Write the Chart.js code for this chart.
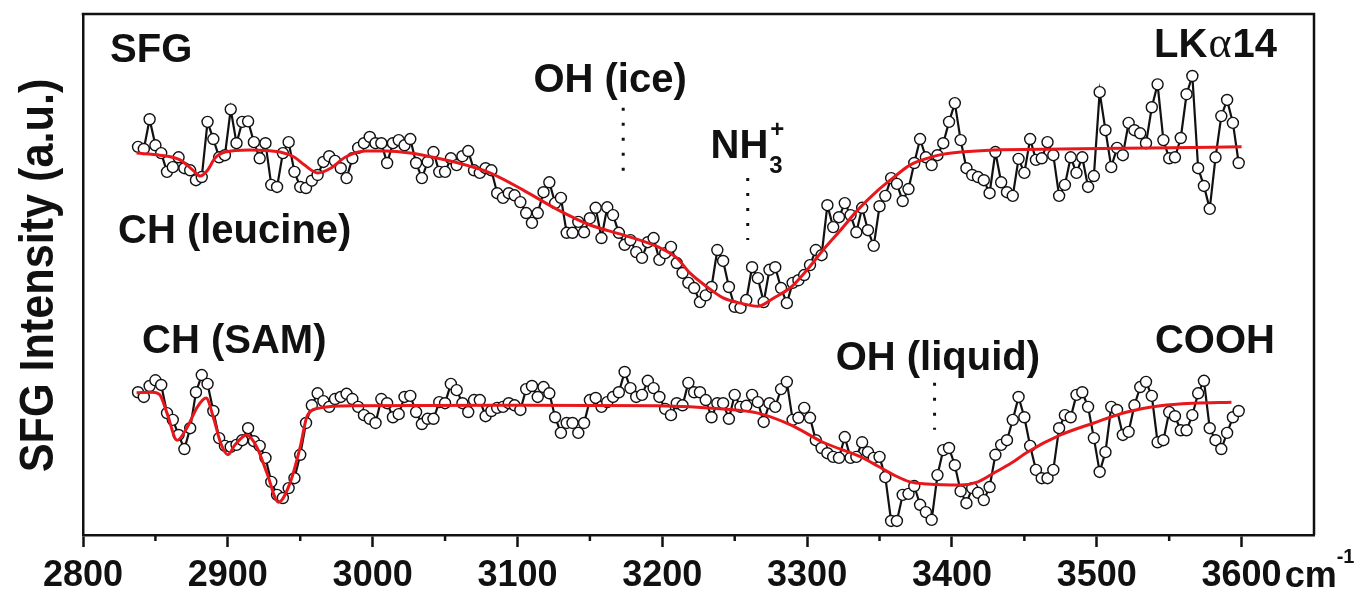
<!DOCTYPE html>
<html lang="en">
<head>
    <meta charset="UTF-8">
    <title>SFG spectra LKα14</title>
    <script src="https://cdn.jsdelivr.net/npm/chart.js"></script>
    <style>
        body {
            margin: 0;
            background: #fff;
        }
        canvas {
            display: block;
        }
    </style>
</head>
<body>
    <canvas id="sfgChart" width="1356" height="589"></canvas>

    <script>
        // scan grid (cm-1), shared by both spectra
        const wavenumbers = [
            2838,2842,2846,2850,2854,2858,2862,2866,2870,2874,2878,2882,2886,2890,2894,2898,2902,2906,2910,2914,
            2918,2922,2926,2930,2934,2938,2942,2946,2950,2954,2958,2962,2966,2970,2974,2978,2982,2986,2990,2994,
            2998,3002,3006,3010,3014,3018,3022,3026,3030,3034,3038,3042,3046,3050,3054,3058,3062,3066,3070,3074,
            3078,3082,3086,3090,3094,3098,3102,3106,3110,3114,3118,3122,3126,3130,3134,3138,3142,3146,3150,3154,
            3158,3162,3166,3170,3174,3178,3182,3186,3190,3194,3198,3202,3206,3210,3214,3218,3222,3226,3230,3234,
            3238,3242,3246,3250,3254,3258,3262,3266,3270,3274,3278,3282,3286,3290,3294,3298,3302,3306,3310,3314,
            3318,3322,3326,3330,3334,3338,3342,3346,3350,3354,3358,3362,3366,3370,3374,3378,3382,3386,3390,3394,
            3398,3402,3406,3410,3414,3418,3422,3426,3430,3434,3438,3442,3446,3450,3454,3458,3462,3466,3470,3474,
            3478,3482,3486,3490,3494,3498,3502,3506,3510,3514,3518,3522,3526,3530,3534,3538,3542,3546,3550,3554,
            3558,3562,3566,3570,3574,3578,3582,3586,3590,3594,3598
        ];

        // upper spectrum (LKα14), a.u.
        const lkIntensity = [
            74.5,74.1,79.8,74.8,73.3,69.7,70.6,72.5,70.4,70.0,68.1,68.7,79.3,76.0,72.5,72.9,81.7,75.2,79.3,79.4,
            75.4,72.3,75.2,67.2,66.8,73.3,75.4,69.7,66.8,66.6,68.0,69.1,71.6,72.7,71.8,70.4,68.5,72.3,74.3,75.2,
            76.4,75.2,75.2,71.4,75.2,75.8,74.8,76.0,71.4,68.5,71.6,73.5,69.7,69.7,72.3,71.0,72.7,73.7,70.0,69.5,
            70.4,70.0,65.6,
            64.7,65.6,65.2,63.9,61.8,59.9,61.8,65.8,67.7,63.7,64.7,58.0,58.0,60.1,58.1,60.8,62.8,57.0,62.9,61.4,
            58.0,55.7,56.6,54.3,53.2,56.2,57.0,52.8,54.1,55.3,52.2,50.3,48.4,47.4,44.7,46.0,47.6,54.7,52.6,47.6,
            43.8,43.6,45.1,51.4,49.3,44.7,50.9,51.4,47.4,44.5,48.4,48.9,49.9,51.8,54.7,53.7,63.3,59.1,61.0,63.7,
            61.4,58.1,62.8,
            58.5,55.5,63.1,65.1,68.5,67.4,64.1,66.4,71.4,76.0,72.5,71.0,72.9,75.2,79.3,82.9,75.8,70.4,69.1,68.7,
            68.1,65.6,73.5,67.7,65.8,65.1,72.2,69.5,76.0,72.0,72.3,75.4,72.9,65.1,67.2,72.5,69.5,72.5,66.8,68.9,
            85.0,77.7,70.6,74.3,72.9,79.1,77.7,77.1,75.2,82.1,86.5,75.8,72.3,72.5,76.2,84.6,88.1,70.4,67.0,62.6,
            72.5,80.4,83.5,79.1,71.4
        ];

        // lower spectrum (COOH SAM), a.u.
        const coohIntensity = [
            27.4,26.5,28.6,29.7,28.8,23.4,22.1,19.2,16.5,20.5,27.4,30.7,29.0,23.8,18.6,17.1,16.9,17.3,18.2,20.5,
            18.0,17.1,14.8,10.2,7.7,7.1,9.0,10.9,15.4,21.5,24.9,27.2,25.7,24.6,26.1,26.5,27.1,26.1,24.6,23.0,
            22.3,21.5,26.1,25.3,22.6,23.2,26.5,26.7,23.6,21.3,22.3,22.3,25.5,25.3,29.0,27.8,25.3,23.6,25.9,25.9,
            22.8,23.8,24.4,
            24.6,25.3,24.9,24.0,28.0,28.6,26.5,28.4,27.2,22.6,19.6,21.5,21.5,19.6,21.5,25.9,26.3,24.6,25.5,26.5,
            27.4,31.3,28.2,26.5,26.9,29.6,28.2,26.5,24.2,23.0,25.3,24.9,29.2,27.4,27.4,25.9,22.6,25.3,25.3,22.3,
            26.9,24.6,24.8,26.9,25.5,21.7,25.3,24.6,28.0,29.4,22.1,22.5,24.4,22.5,18.2,16.7,15.7,15.0,14.8,18.8,
            14.8,15.0,17.8,15.9,14.8,
            15.0,11.1,2.7,2.7,7.7,7.9,9.4,5.8,4.4,2.9,11.5,16.3,16.7,13.4,8.4,6.1,9.0,8.1,6.7,9.2,
            15.4,17.3,18.2,22.1,26.5,22.6,17.1,12.5,10.9,10.9,12.5,20.5,23.0,22.6,26.9,27.4,24.6,18.6,12.1,15.9,
            24.6,24.0,19.2,19.8,24.9,28.4,29.4,26.7,17.8,18.2,23.6,22.8,20.1,20.1,23.0,27.2,29.6,20.5,18.2,16.5,
            19.6,22.6,23.8
        ];

        // fitted curves (red)
        const lkFitX = [2837,2853,2867,2876,2881,2886,2891,2898,2915,2936,2946,2953,2962,2971,2981,2995,3009,3026,3045,3067,
                        3081,3104,3128,3150,3173,3197,3210,3219,3231,3242,3254,3266,3277,3289,3300,3311,3323,3335,3349,3360,
                        3371,3383,3394,3406,3429,3475,3537,3600];
        const lkFitY = [73.3,72.9,72.0,70.0,68.9,70.0,72.3,73.5,73.9,73.5,72.5,71.0,69.5,70.4,72.5,73.7,73.7,73.3,72.3,70.8,
                        69.5,66.2,62.4,59.5,57.6,55.3,53.2,50.3,47.6,45.5,44.5,43.9,45.5,47.6,50.9,54.7,58.5,62.4,66.2,68.7,
                        71.0,72.3,73.1,73.5,73.9,74.1,74.3,74.5];
        const coohFitX = [2837,2848,2853,2858,2865,2872,2879,2885,2890,2895,2900,2905,2913,2920,2927,2935,2943,2950,2955,2964,
                          2987,3088,3197,3242,3266,3289,3311,3337,3349,3360,3371,3383,3406,3418,3429,3441,3452,3475,3498,3521,
                          3544,3567,3593];
        const coohFitY = [27.3,27.4,26.9,23.4,18.2,20.7,24.6,26.3,22.6,17.7,15.4,17.3,19.2,16.9,11.9,6.3,10.0,16.9,23.0,24.4,
                          24.8,24.9,24.8,24.2,23.4,21.1,17.8,15.0,13.2,11.5,10.2,9.8,9.6,10.2,11.9,13.8,15.9,19.2,21.5,23.6,
                          24.8,25.3,25.5];

        const majorTicks = [2800, 2900, 3000, 3100, 3200, 3300, 3400, 3500, 3600];

        // band assignments: dotted marker at a wavenumber, from/to in a.u.
        const markers = [
            { at: 3173, from: 82.0, to: 67.6 },
            { at: 3259, from: 68.5, to: 56.6 },
            { at: 3388, from: 29.2, to: 20.2 }
        ];

        const INK = '#111';
        const RED = '#e8171c';
        const FONT = '"Liberation Sans", Arial, sans-serif';
        Chart.defaults.font.family = FONT;

        const toPoints = (xs, ys) => ys.map((v, i) => ({ x: xs[i], y: v }));

        function drawRuns(ctx, runs, px, py, align) {
            let total = 0;
            runs.forEach(r => { ctx.font = r.font; r.w = ctx.measureText(r.t).width + (r.gap || 0); total += r.w; });
            let cx = align === 'right' ? px - total : px;
            runs.forEach(r => {
                ctx.font = r.font;
                ctx.fillText(r.t, cx + (r.gap || 0) / 2, py + (r.dy || 0));
                cx += r.w;
            });
        }

        const annotations = {
            id: 'annotations',
            afterDraw(chart) {
                const { ctx, chartArea: a, scales: { x, y } } = chart;
                ctx.save();

                // top and right frame
                ctx.strokeStyle = INK;
                ctx.lineWidth = 2.5;
                ctx.beginPath();
                ctx.moveTo(a.left - 1.25, a.top);
                ctx.lineTo(a.right, a.top);
                ctx.lineTo(a.right, a.bottom);
                ctx.stroke();

                // minor ticks every 50 cm-1
                ctx.lineWidth = 2.5;
                x.ticks.forEach(t => {
                    if (t.value % 100 === 50 && t.value < 3600) {
                        const px = x.getPixelForValue(t.value);
                        ctx.beginPath();
                        ctx.moveTo(px, a.bottom);
                        ctx.lineTo(px, a.bottom + 6);
                        ctx.stroke();
                    }
                });

                // dotted band markers
                ctx.setLineDash([3, 12]);
                ctx.lineWidth = 3;
                markers.forEach(m => {
                    const px = x.getPixelForValue(m.at);
                    ctx.beginPath();
                    ctx.moveTo(px, y.getPixelForValue(m.from));
                    ctx.lineTo(px, y.getPixelForValue(m.to));
                    ctx.stroke();
                });
                ctx.setLineDash([]);

                // labels
                ctx.fillStyle = INK;
                ctx.textBaseline = 'alphabetic';
                ctx.textAlign = 'left';
                const bold = s => 'bold ' + s + 'px ' + FONT;
                const put = (runs, w, v, align) => drawRuns(ctx, runs, x.getPixelForValue(w), y.getPixelForValue(v), align);

                put([{ t: 'SFG', font: bold(40) }], 2818.7, 90.8);
                put([{ t: 'CH (leucine)', font: bold(40) }], 2824.2, 56.0);
                put([{ t: 'CH (SAM)', font: bold(40) }], 2840.8, 34.9);
                put([{ t: 'OH (ice)', font: bold(40) }], 3111, 85.0);
                put([{ t: 'OH (liquid)', font: bold(40) }], 3319.7, 31.7);
                put([{ t: 'COOH', font: bold(40) }], 3623, 34.9, 'right');
                put([
                    { t: 'LK', font: bold(40) },
                    { t: 'α', font: '44px "Liberation Serif", "DejaVu Serif", serif', gap: 2 },
                    { t: '14', font: bold(40) }
                ], 3624.4, 91.7, 'right');

                // NH3+
                const nx = x.getPixelForValue(3233.3);
                const ny = y.getPixelForValue(72.4);
                ctx.font = bold(40);
                ctx.fillText('NH', nx, ny);
                const nw = ctx.measureText('NH').width;
                ctx.font = bold(24);
                ctx.fillText('3', nx + nw + 1, ny + 15);
                ctx.fillText('+', nx + nw + 2, ny - 21);

                // unit after the last tick label
                const lastPx = x.getPixelForValue(3600);
                ctx.font = bold(36);
                const halfW = ctx.measureText('3600').width / 2;
                const base = a.bottom + 52;
                ctx.fillText('cm', lastPx + halfW + 3, base);
                const cmW = ctx.measureText('cm').width;
                ctx.font = bold(20);
                ctx.fillText('-1', lastPx + halfW + 3 + cmW, base - 24);

                // y title
                ctx.save();
                ctx.translate(53, (a.top + a.bottom) / 2 + 1);
                ctx.rotate(-Math.PI / 2);
                ctx.scale(0.9, 1);
                ctx.textAlign = 'center';
                ctx.font = bold(48);
                ctx.fillText('SFG Intensity (a.u.)', 0, 0);
                ctx.restore();

                ctx.restore();
            }
        };

        const ctx = document.getElementById('sfgChart').getContext('2d');
        new Chart(ctx, {
            type: 'line',
            data: {
                datasets: [
                    {
                        label: 'LKα14 fit',
                        data: toPoints(lkFitX, lkFitY),
                        borderColor: RED,
                        borderWidth: 3,
                        pointRadius: 0,
                        cubicInterpolationMode: 'monotone',
                        order: 0
                    },
                    {
                        label: 'COOH fit',
                        data: toPoints(coohFitX, coohFitY),
                        borderColor: RED,
                        borderWidth: 3,
                        pointRadius: 0,
                        cubicInterpolationMode: 'monotone',
                        order: 0
                    },
                    {
                        label: 'LKα14',
                        data: toPoints(wavenumbers, lkIntensity),
                        borderColor: INK,
                        borderWidth: 2.2,
                        pointRadius: 5.5,
                        pointBorderWidth: 1.4,
                        pointBorderColor: INK,
                        pointBackgroundColor: '#fff',
                        tension: 0,
                        order: 1
                    },
                    {
                        label: 'COOH',
                        data: toPoints(wavenumbers, coohIntensity),
                        borderColor: INK,
                        borderWidth: 2.2,
                        pointRadius: 5.5,
                        pointBorderWidth: 1.4,
                        pointBorderColor: INK,
                        pointBackgroundColor: '#fff',
                        tension: 0,
                        order: 1
                    }
                ]
            },
            options: {
                responsive: false,
                animation: false,
                devicePixelRatio: 1,
                layout: { padding: { top: 14, right: 42, left: 0, bottom: 0 } },
                plugins: {
                    legend: { display: false },
                    tooltip: { enabled: false }
                },
                scales: {
                    x: {
                        type: 'linear',
                        min: 2800,
                        max: 3650,
                        afterFit: s => { s.height = 54; },
                        ticks: {
                            stepSize: 50,
                            autoSkip: false,
                            maxRotation: 0,
                            minRotation: 0,
                            padding: 7,
                            color: INK,
                            font: { size: 36, weight: 'bold' },
                            callback: v => majorTicks.includes(v) ? String(v) : ''
                        },
                        grid: {
                            drawOnChartArea: false,
                            tickLength: 12,
                            tickWidth: 2.5,
                            tickColor: c => (c.tick && majorTicks.includes(c.tick.value)) ? INK : 'rgba(0,0,0,0)'
                        },
                        border: { color: INK, width: 2.5 }
                    },
                    y: {
                        min: 0,
                        max: 100,
                        afterFit: s => { s.width = 83; },
                        ticks: { display: false },
                        grid: { display: false },
                        border: { color: INK, width: 2.5 }
                    }
                }
            },
            plugins: [annotations]
        });
    </script>
</body>
</html>
